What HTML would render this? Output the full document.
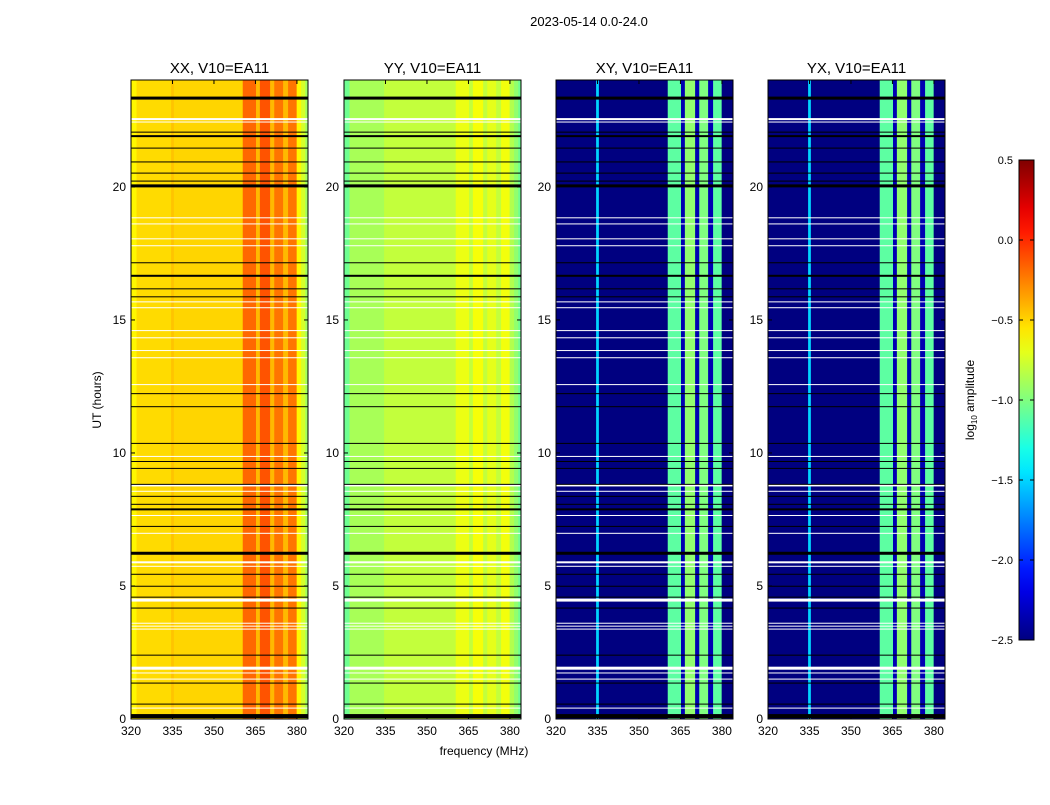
<!DOCTYPE html>
<html><head><meta charset="utf-8"><style>
body{margin:0;background:#fff;}
svg text{font-family:"Liberation Sans",sans-serif;}
</style></head><body>
<svg id="chart" width="1050" height="800" xmlns="http://www.w3.org/2000/svg">
<text x="589" y="26" text-anchor="middle" font-size="13">2023-05-14 0.0-24.0</text>
<text x="484" y="755" text-anchor="middle" font-size="12">frequency (MHz)</text>
<text transform="translate(101,400) rotate(-90)" text-anchor="middle" font-size="12">UT (hours)</text>
<g id="panels"></g>
<g id="cbar"></g>
</svg>
<script>
// ----- data -----
const panelTitles = ["XX, V10=EA11","YY, V10=EA11","XY, V10=EA11","YX, V10=EA11"];
// frequency segments and log10 amplitude per panel
const segStart = [320, 322, 334.5, 335.5, 360.4, 365.2, 366.6, 370.3, 371.8, 375.0, 376.8, 379.9, 381.5, 383];
const segEnd   = [322, 334.5, 335.5, 360.4, 365.2, 366.6, 370.3, 371.8, 375.0, 376.8, 379.9, 381.5, 383, 384];
const ampXX = [-0.6,-0.52,-0.45,-0.5,-0.18,-0.42,-0.12,-0.42,-0.22,-0.42,-0.22,-0.6,-0.75,-0.9];
const ampYY = [-1.05,-0.88,-0.8,-0.8,-0.68,-0.8,-0.65,-0.8,-0.7,-0.8,-0.66,-0.85,-0.95,-1.05];
const ampXY = [-2.5,-2.5,-1.5,-2.5,-1.1,-2.35,-0.95,-2.35,-1.0,-2.35,-1.1,-2.5,-2.5,-2.5];
const ampYX = [-2.5,-2.5,-1.5,-2.5,-1.1,-2.35,-0.95,-2.35,-1.0,-2.35,-1.1,-2.5,-2.5,-2.5];
const panelAmps = [ampXX, ampYY, ampXY, ampYX];
// flagged rows (hours)
const blackHours = [23.34,22.06,21.91,21.46,20.94,20.52,20.22,20.04,17.15,16.66,16.17,15.87,12.23,11.74,10.36,9.68,9.42,8.82,8.37,8.07,7.88,7.24,6.23,5.44,4.99,4.58,4.17,2.40,1.35,0.56,0.11];
const blackWidth = [3,1,2,1,1,1,1,3,1,2,1,1,1,1,1,1,1,1,1,1,2,1,3,1,1,1,1,1,1,1,4];
const whiteHours = [22.55,22.44,18.84,18.61,18.05,17.79,15.68,15.46,14.6,14.33,13.85,13.58,12.57,9.87,8.78,8.56,7.65,6.98,5.89,5.74,4.47,3.6,3.49,3.38,1.91,1.73,1.5,0.41];
const whiteWidth = [2,1,1,1,1,1,1,1,1,1,1,1,1,1,2,1,1,1,2,1,3,1,1,1,3,1,1,1];
const xTicks = [320,335,350,365,380];
const yTicks = [0,5,10,15,20];
const cbTicks = [0.5,0.0,-0.5,-1.0,-1.5,-2.0,-2.5];
const cbLabels = ["0.5","0.0","\u22120.5","\u22121.0","\u22121.5","\u22122.0","\u22122.5"];

// ----- scales -----
const panelX = [131,344,556,768], panelW = 177, plotTop = 80, plotBot = 719;
const fMin = 320, fMax = 384, hMax = 24.02;
const xs = (p,f)=>panelX[p] + (f-fMin)/(fMax-fMin)*panelW;
const ys = h=>plotBot - h/hMax*(plotBot-plotTop);
const vmin=-2.5, vmax=0.5;
function jet(v){
  let t=Math.max(0,Math.min(1,(v-vmin)/(vmax-vmin)));
  const c=x=>Math.round(255*Math.max(0,Math.min(1,x)));
  return `rgb(${c(1.5-Math.abs(4*t-3))},${c(1.5-Math.abs(4*t-2))},${c(1.5-Math.abs(4*t-1))})`;
}
const NS="http://www.w3.org/2000/svg";
function mk(tag,attrs,parent){const e=document.createElementNS(NS,tag);for(const k in attrs)e.setAttribute(k,attrs[k]);parent.appendChild(e);return e;}
const G=document.getElementById('panels');
panelTitles.forEach((title,p)=>{
  const g=mk('g',{},G);
  
  
  const amps=panelAmps[p];
  segStart.forEach((s,i)=>{
    const r=mk('rect',{x:xs(p,s),y:plotTop,width:xs(p,segEnd[i])-xs(p,s)+0.5,height:plotBot-plotTop,fill:jet(amps[i])},g);
    
    
  });
  whiteHours.forEach((h,i)=>{
    const r=mk('rect',{x:panelX[p],y:ys(h)-whiteWidth[i]/2,width:panelW,height:whiteWidth[i],fill:'#fff'},g);
    
    
  });
  blackHours.forEach((h,i)=>{
    const r=mk('rect',{x:panelX[p],y:ys(h)-blackWidth[i]/2,width:panelW,height:blackWidth[i],fill:'#000'},g);
    
    
  });
  mk('rect',{x:panelX[p],y:plotTop,width:panelW,height:plotBot-plotTop,fill:'none',stroke:'#000','stroke-width':1},g);
  const t=mk('text',{x:panelX[p]+panelW/2,y:73,'text-anchor':'middle','font-size':15},g);
  t.textContent=title;
  
  
  xTicks.forEach(v=>{
    const x=xs(p,v);
    mk('line',{x1:x,x2:x,y1:plotBot,y2:plotBot-4,stroke:'#000'},g);
    mk('line',{x1:x,x2:x,y1:plotTop,y2:plotTop+4,stroke:'#000'},g);
    const l=mk('text',{x:x,y:plotBot+16,'text-anchor':'middle','font-size':12},g);
    l.textContent=v;
    
    
  });
  yTicks.forEach(v=>{
    const y=ys(v);
    mk('line',{x1:panelX[p],x2:panelX[p]+4,y1:y,y2:y,stroke:'#000'},g);
    mk('line',{x1:panelX[p]+panelW,x2:panelX[p]+panelW-4,y1:y,y2:y,stroke:'#000'},g);
    const l=mk('text',{x:panelX[p]-5,y:y+4,'text-anchor':'end','font-size':12},g);
    l.textContent=v;
    
    
  });
});
// colorbar
const CB=document.getElementById('cbar');
const cbX=1019,cbW=15,cbTop=160,cbBot=640;
const cy=v=>cbBot-(v-vmin)/(vmax-vmin)*(cbBot-cbTop);
const defs=mk('defs',{},CB);
const grad=mk('linearGradient',{id:'jetg',x1:0,y1:1,x2:0,y2:0},defs);
for(let i=0;i<=20;i++){mk('stop',{offset:i/20,'stop-color':jet(vmin+(vmax-vmin)*i/20)},grad);}
mk('rect',{x:cbX,y:cbTop,width:cbW,height:cbBot-cbTop,fill:'url(#jetg)',stroke:'#000'},CB);
cbTicks.forEach((v,i)=>{
  const y=cy(v);
  mk('line',{x1:cbX,x2:cbX+4,y1:y,y2:y,stroke:'#000'},CB);
  mk('line',{x1:cbX+cbW,x2:cbX+cbW-4,y1:y,y2:y,stroke:'#000'},CB);
  const l=mk('text',{x:cbX-6,y:y+4,'font-size':11,'text-anchor':'end'},CB);
  l.textContent=cbLabels[i];
  
  
});
const cl=mk('text',{transform:'translate(974,400) rotate(-90)','text-anchor':'middle','font-size':12},CB);
cl.innerHTML='log<tspan font-size="8" dy="3">10</tspan><tspan dy="-3"> amplitude</tspan>';


</script>
</body></html>
